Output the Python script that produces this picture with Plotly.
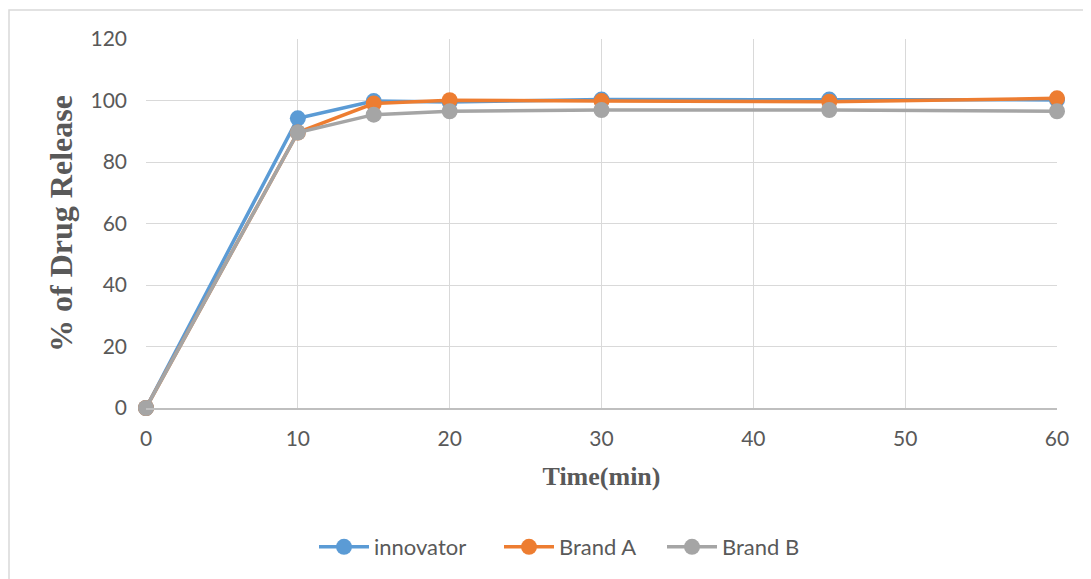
import plotly.graph_objects as go

time_min = [0, 10, 15, 20, 30, 45, 60]
innovator = [0, 94.2, 99.8, 99.5, 100.3, 100.3, 100.2]
brand_a = [0, 89.6, 99.0, 100.1, 99.8, 99.6, 100.7]
brand_b = [0, 89.6, 95.4, 96.5, 96.9, 96.9, 96.5]

series = [("innovator", innovator, "#5B9BD5", "legend"),
          ("Brand A", brand_a, "#ED7D31", "legend2"),
          ("Brand B", brand_b, "#A5A5A5", "legend3")]

fig = go.Figure()
for name, vals, col, lg in series:
    fig.add_trace(go.Scatter(x=time_min, y=vals, name=name, mode="lines+markers",
                             line=dict(color=col, width=3.5),
                             marker=dict(color=col, size=16), legend=lg))

# page body has 8px margin: work in figure coords = page coords - 8
OFF = 8
W, H = 1083, 571
l, r, t, b = 146 - OFF, 34, 39 - OFF, 170
pw, ph = W - l - r, H - t - b

def px(xp):
    return (xp - OFF - l) / pw

def py(yp):
    return 1 - (yp - OFF - t) / ph

fig.add_shape(type="rect", xref="paper", yref="paper",
              x0=px(9), x1=px(1100), y0=py(10), y1=py(590),
              line=dict(color="#D9D9D9", width=1.5), fillcolor="rgba(0,0,0,0)", layer="below")

legend_style = dict(orientation="h", yanchor="middle", xanchor="left", y=py(547),
                    font=dict(family="Lato", size=22, color="#595959"),
                    itemwidth=50, bgcolor="rgba(0,0,0,0)")

fig.update_layout(
    width=W, height=H,
    margin=dict(l=l, r=r, t=t, b=b),
    paper_bgcolor="white", plot_bgcolor="white",
    font=dict(family="Lato", color="#595959", size=21),
    xaxis=dict(range=[0, 60], tickvals=[0, 10, 20, 30, 40, 50, 60],
               showgrid=True, gridcolor="#D9D9D9", gridwidth=1,
               zeroline=False, showline=True, linecolor="#BFBFBF", linewidth=1.5,
               ticks="", ticklabelstandoff=11, tickfont=dict(size=21, color="#595959"),
               title=dict(text="<b>Time(min)</b>", standoff=18,
                          font=dict(family="Liberation Serif", size=26, color="#595959"))),
    yaxis=dict(range=[0, 120], tickvals=[0, 20, 40, 60, 80, 100, 120],
               showgrid=True, gridcolor="#D9D9D9", gridwidth=1,
               zeroline=False, showline=False,
               ticks="", ticklabelstandoff=18, tickfont=dict(size=21, color="#595959"),
               title=dict(text="<b>% of Drug Release</b>", standoff=8,
                          font=dict(family="Liberation Serif", size=32, color="#595959"))),
    legend=dict(legend_style, x=px(314)),
    legend2=dict(legend_style, x=px(499)),
    legend3=dict(legend_style, x=px(662)),
    showlegend=True,
)
fig.update_traces(cliponaxis=False)

fig.write_html("out.html", config={"displayModeBar": False})
